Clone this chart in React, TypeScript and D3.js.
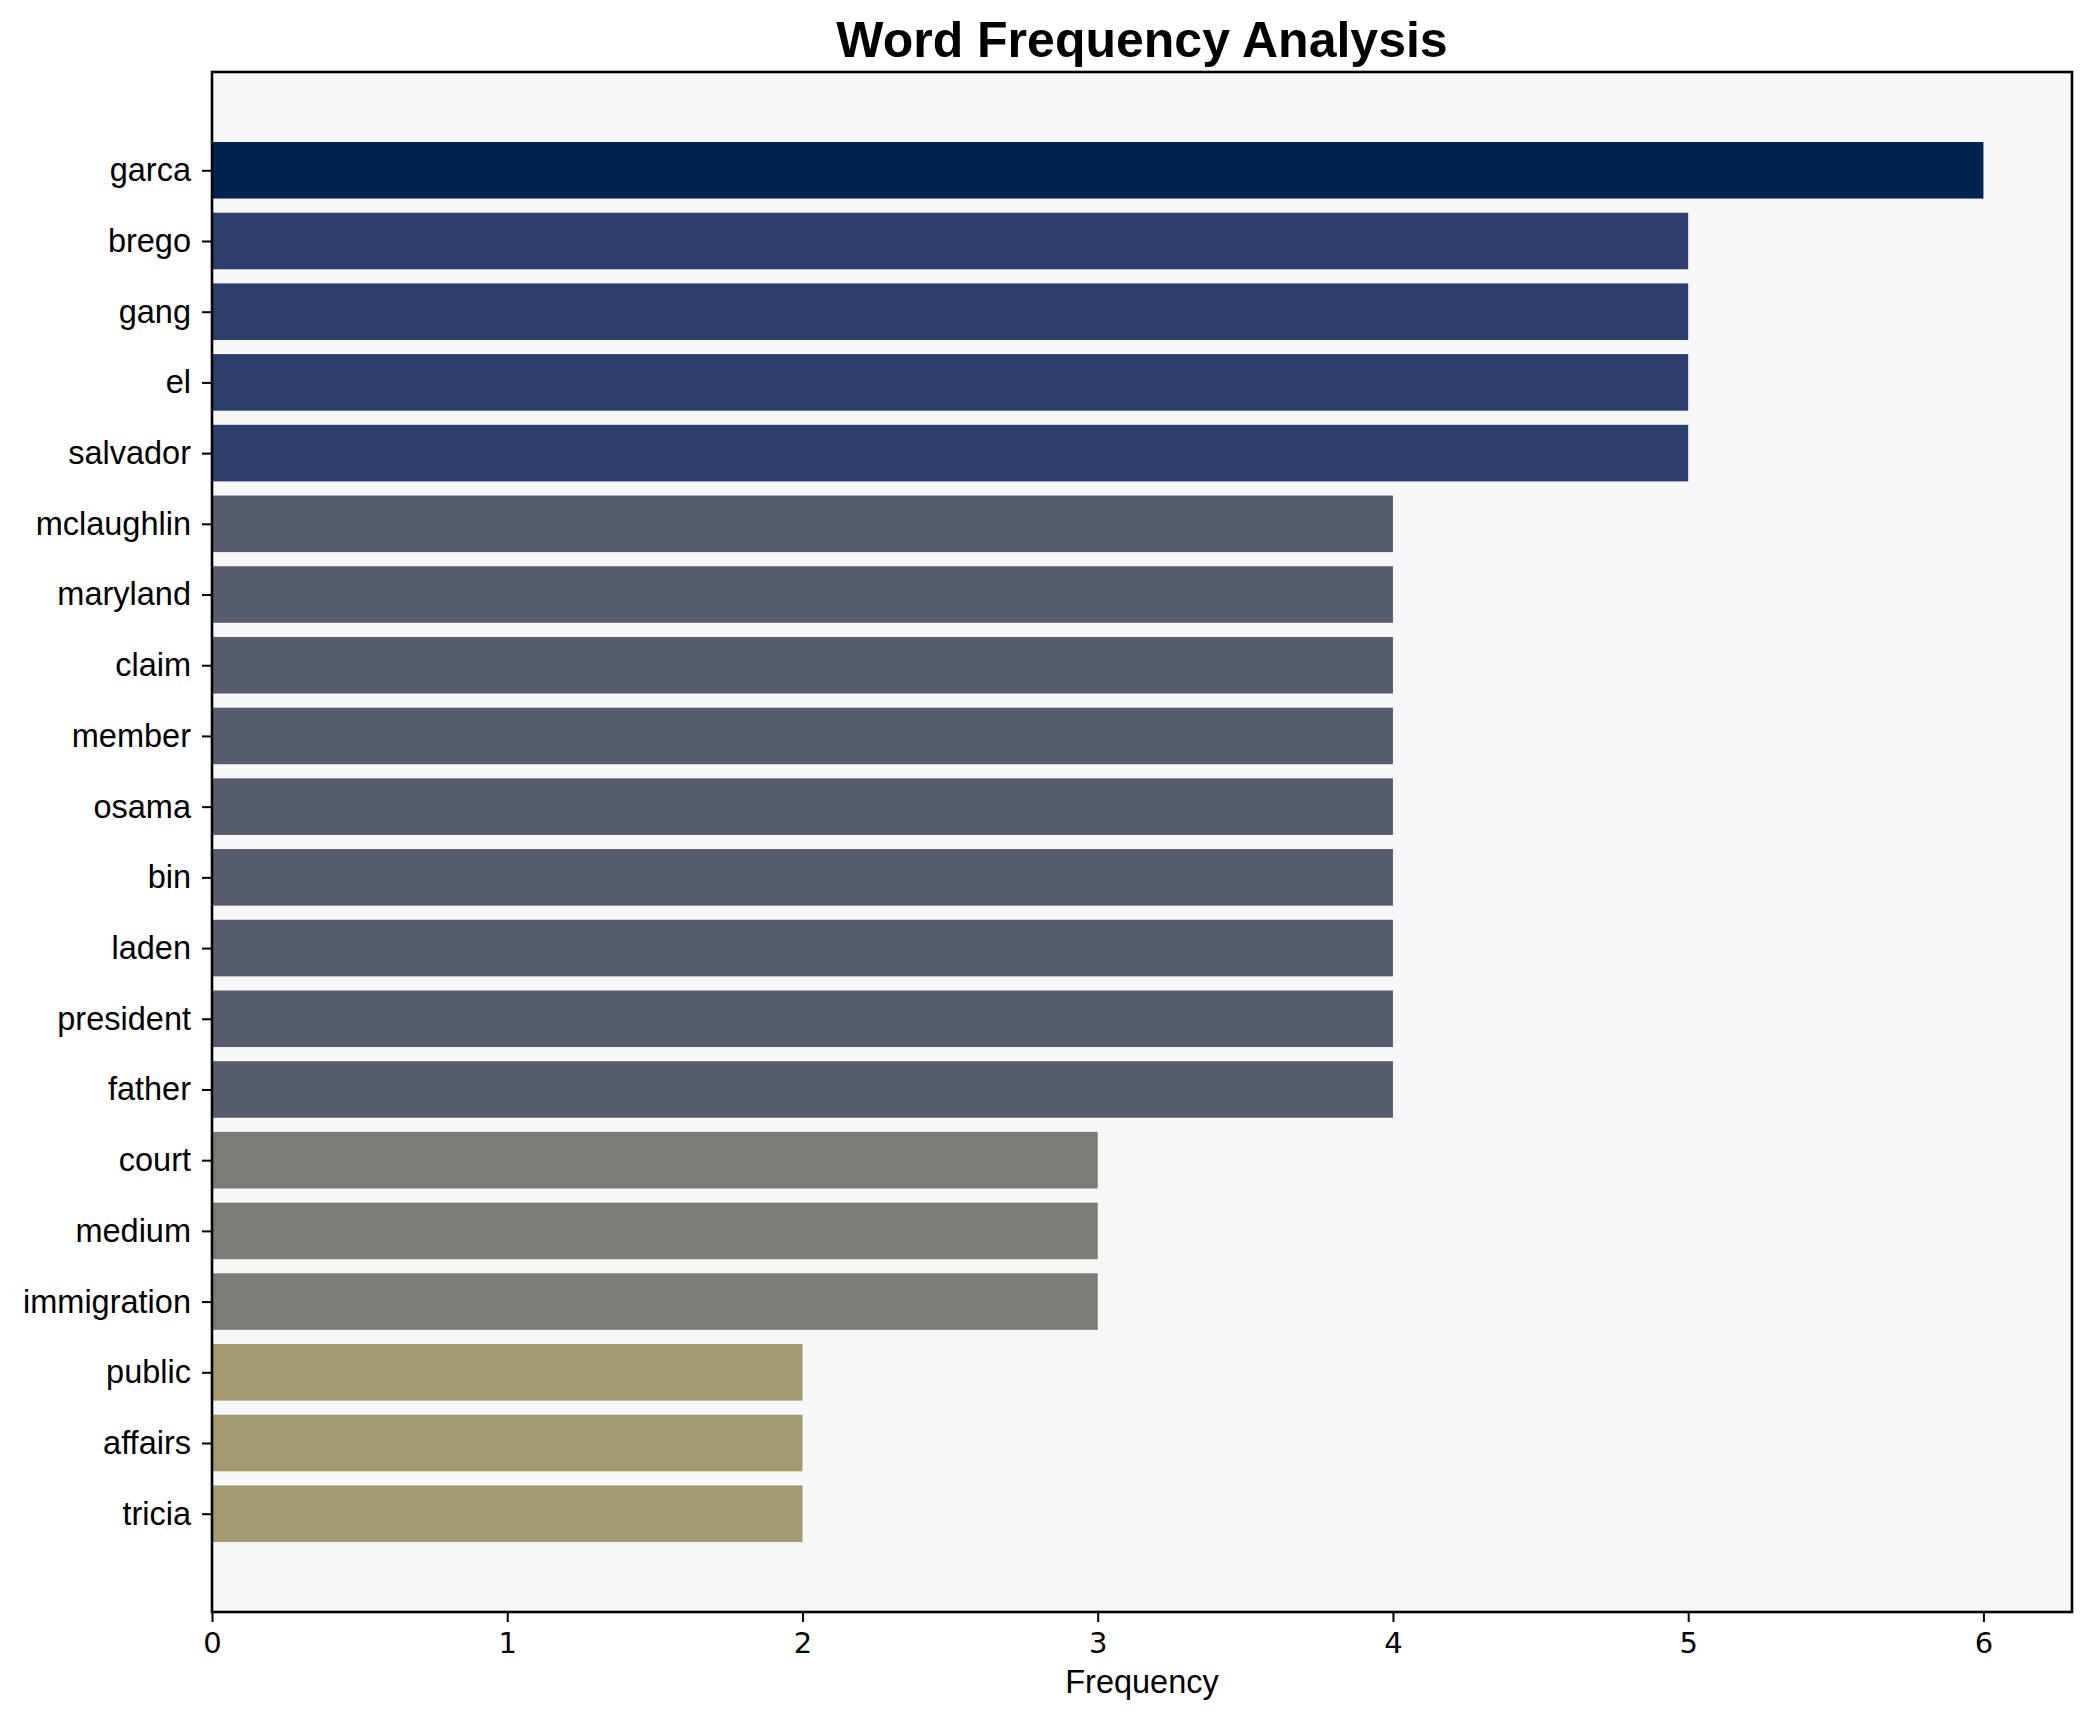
import { useEffect, useRef } from 'react';
import * as d3 from 'd3';

// Palabras y frecuencias
const words = [
  'garca', 'brego', 'gang', 'el', 'salvador', 'mclaughlin', 'maryland', 'claim',
  'member', 'osama', 'bin', 'laden', 'president', 'father', 'court', 'medium',
  'immigration', 'public', 'affairs', 'tricia',
];
const counts = [6, 5, 5, 5, 5, 4, 4, 4, 4, 4, 4, 4, 4, 4, 3, 3, 3, 2, 2, 2];
const xTicks = [0, 1, 2, 3, 4, 5, 6];
// colores por frecuencia (de 2 a 6)
const colorLevels = [2, 3, 4, 5, 6];
const colorValues = ['#a39a70', '#7c7b76', '#575d6d', '#2c3e6d', '#00234f'];

export default function App() {
  const chartRef = useRef<SVGSVGElement | null>(null);

  useEffect(() => {
    document.body.style.margin = '0';
    if (!chartRef.current) return;

    const W = 2091;
    const H = 1722;
    const margin = { top: 72, right: 19, bottom: 110, left: 212 };
    const width = W - margin.left - margin.right;
    const height = H - margin.top - margin.bottom;
    const font = '"Liberation Sans", Arial, sans-serif';

    const svgContainer = d3.select(chartRef.current);
    svgContainer.selectAll('*').remove();
    svgContainer.attr('width', W).attr('height', H).attr('viewBox', `0 0 ${W} ${H}`);

    svgContainer.append('rect').attr('width', W).attr('height', H).attr('fill', '#ffffff');

    const svg = svgContainer.append('g')
      .attr('transform', `translate(${margin.left},${margin.top})`);

    // fondo del área de trazado
    svg.append('rect')
      .attr('width', width)
      .attr('height', height)
      .attr('fill', '#f7f7f7');

    // Escala X, con margen del 5% como matplotlib
    const xMax = d3.max(counts)! * 1.05;
    const x = d3.scaleLinear().domain([0, xMax]).range([0, width]);

    // Escala Y: barras de alto 0.8 con margen del 5%
    const n = words.length;
    const span = (n - 1) + 0.8;
    const pad = span * 0.05;
    const y = d3.scaleLinear()
      .domain([-0.4 - pad, n - 1 + 0.4 + pad])
      .range([0, height]);

    const color = d3.scaleOrdinal<number, string>().domain(colorLevels).range(colorValues);

    // Barras
    svg.selectAll('.bar')
      .data(words)
      .enter()
      .append('rect')
      .attr('class', 'bar')
      .attr('x', x(0))
      .attr('y', (_, i) => y(i - 0.4))
      .attr('width', (_, i) => x(counts[i]) - x(0))
      .attr('height', y(0.4) - y(-0.4))
      .attr('fill', (_, i) => color(counts[i]));

    // Eje X
    const xAxis = svg.append('g')
      .attr('transform', `translate(0,${height})`)
      .call(d3.axisBottom(x).tickValues(xTicks).tickFormat(d3.format('d')).tickSize(10).tickPadding(10).tickSizeOuter(0));
    xAxis.select('.domain').remove();
    xAxis.selectAll('line').attr('stroke-width', 2);
    xAxis.selectAll('text')
      .style('font-family', '"DejaVu Sans", sans-serif')
      .style('font-size', '29px')
      .attr('fill', '#000');

    // Eje Y
    const yAxis = svg.append('g')
      .call(d3.axisLeft(y).tickValues(d3.range(n)).tickFormat((d) => words[d as number]).tickSize(10).tickPadding(11).tickSizeOuter(0));
    yAxis.select('.domain').remove();
    yAxis.selectAll('line').attr('stroke-width', 2);
    yAxis.selectAll('text')
      .style('font-family', font)
      .style('font-size', '32.5px')
      .attr('fill', '#000');

    // Marco
    svg.append('rect')
      .attr('width', width)
      .attr('height', height)
      .attr('fill', 'none')
      .attr('stroke', '#000')
      .attr('stroke-width', 2.6);

    // Título
    svgContainer.append('text')
      .attr('x', margin.left + width / 2)
      .attr('y', 57)
      .attr('text-anchor', 'middle')
      .style('font-family', font)
      .style('font-size', '50px')
      .style('font-weight', 'bold')
      .text('Word Frequency Analysis');

    // Etiqueta del eje X
    svgContainer.append('text')
      .attr('x', margin.left + width / 2)
      .attr('y', 1693)
      .attr('text-anchor', 'middle')
      .style('font-family', font)
      .style('font-size', '32.5px')
      .text('Frequency');
  }, []);

  return <svg ref={chartRef} style={{ display: 'block' }}></svg>;
}
